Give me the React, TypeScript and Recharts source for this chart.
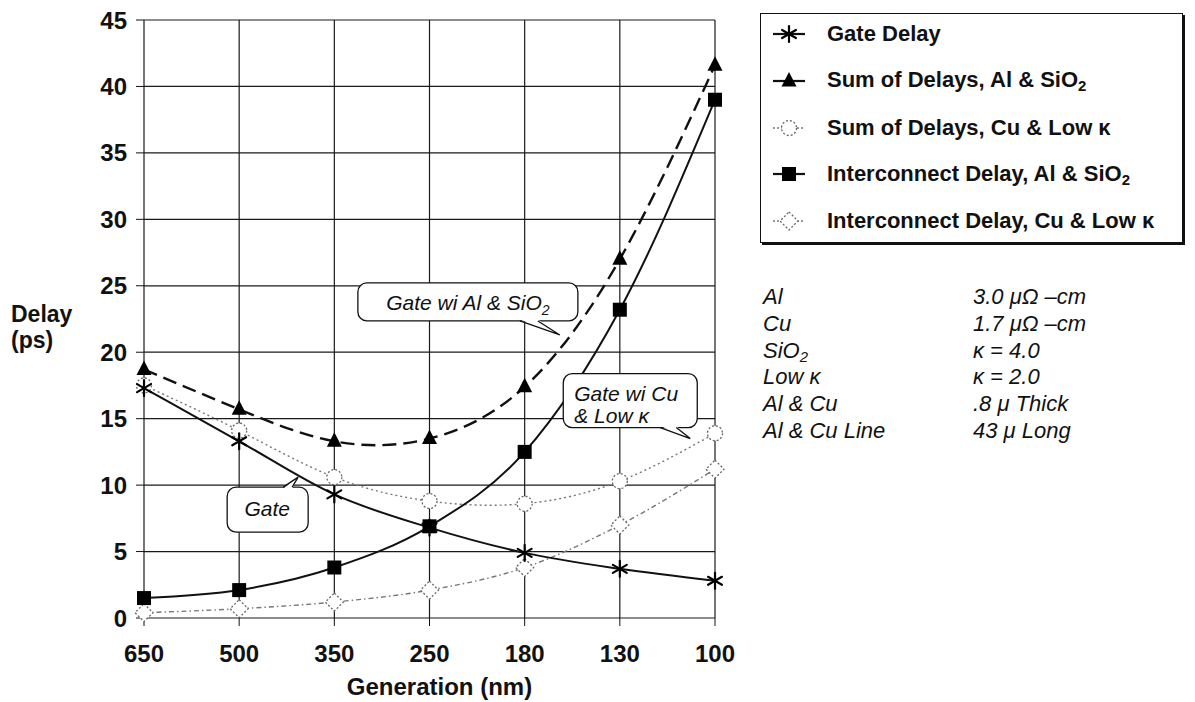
import React from 'react'
import { LineChart, Line, XAxis, YAxis, CartesianGrid, ReferenceDot } from 'recharts'

// ─── values ──────────────────────────────────────────────────────────────────

const GENERATIONS = ['650', '500', '350', '250', '180', '130', '100']
const GATE_DELAY = [17.3, 13.3, 9.3, 6.8, 4.9, 3.7, 2.8]
const SUM_AL_SIO2 = [18.7, 15.7, 13.3, 13.5, 17.4, 27.0, 41.6]
const SUM_CU_LOWK = [17.5, 14.1, 10.6, 8.8, 8.6, 10.3, 13.9]
const INTERCONNECT_AL_SIO2 = [1.5, 2.1, 3.8, 6.9, 12.5, 23.2, 39.0]
const INTERCONNECT_CU_LOWK = [0.4, 0.7, 1.2, 2.1, 3.8, 7.0, 11.2]
const Y_TICKS = [0, 5, 10, 15, 20, 25, 30, 35, 40, 45]

const MATERIAL_NAMES = ['Al', 'Cu', 'SiO2', 'Low κ', 'Al & Cu', 'Al & Cu Line']
const MATERIAL_VALUES = ['3.0 μΩ –cm', '1.7 μΩ –cm', 'κ = 4.0', 'κ = 2.0', '.8 μ Thick', '43 μ Long']

const FONT = '"Liberation Sans", Arial, Helvetica, sans-serif'

type MarkerKind = 'star' | 'triangle' | 'circle' | 'square' | 'diamond'

interface SeriesDef {
  key: string
  name: string
  values: number[]
  marker: MarkerKind
  stroke: string
  width: number
  dash?: string
  curve: 'monotone' | 'natural'
}

// drawn in this order (grey dotted ones underneath)
const SERIES: SeriesDef[] = [
  { key: 'sumCu', name: 'Sum of Delays, Cu & Low κ', values: SUM_CU_LOWK, marker: 'circle', stroke: '#777', width: 1.4, dash: '2 3', curve: 'natural' },
  { key: 'intCu', name: 'Interconnect Delay, Cu & Low κ', values: INTERCONNECT_CU_LOWK, marker: 'diamond', stroke: '#777', width: 1.4, dash: '5 3 1.5 3', curve: 'monotone' },
  { key: 'gate', name: 'Gate Delay', values: GATE_DELAY, marker: 'star', stroke: '#111', width: 2, curve: 'monotone' },
  { key: 'sumAl', name: 'Sum of Delays, Al & SiO2', values: SUM_AL_SIO2, marker: 'triangle', stroke: '#111', width: 2.4, dash: '14 7', curve: 'natural' },
  { key: 'intAl', name: 'Interconnect Delay, Al & SiO2', values: INTERCONNECT_AL_SIO2, marker: 'square', stroke: '#111', width: 2, curve: 'monotone' },
]

const LEGEND_ORDER = ['gate', 'sumAl', 'sumCu', 'intAl', 'intCu']

const data = GENERATIONS.map((g, i) => {
  const row: Record<string, number | string> = { i, gen: g }
  SERIES.forEach((s) => { row[s.key] = s.values[i] })
  return row
})

// "SiO2" -> SiO with subscript 2 (html)
function withSub(text: string) {
  const parts = text.split('SiO2')
  return parts.map((p, k) => (
    <React.Fragment key={k}>
      {p}
      {k < parts.length - 1 && <>SiO<sub style={{ fontSize: '0.68em', verticalAlign: '-0.3em' }}>2</sub></>}
    </React.Fragment>
  ))
}

function Marker({ kind, cx, cy }: { kind: MarkerKind; cx: number; cy: number }) {
  if (kind === 'star') {
    const r = 8
    const dx = r * Math.cos(Math.PI / 6)
    const dy = r * Math.sin(Math.PI / 6)
    return (
      <g stroke="#000" strokeWidth={2.2} strokeLinecap="round">
        <line x1={cx} y1={cy - r} x2={cx} y2={cy + r} />
        <line x1={cx - dx} y1={cy - dy} x2={cx + dx} y2={cy + dy} />
        <line x1={cx - dx} y1={cy + dy} x2={cx + dx} y2={cy - dy} />
      </g>
    )
  }
  if (kind === 'triangle') {
    return <polygon points={`${cx},${cy - 9} ${cx - 7.5},${cy + 5.5} ${cx + 7.5},${cy + 5.5}`} fill="#000" />
  }
  if (kind === 'square') {
    return <rect x={cx - 7} y={cy - 7} width={14} height={14} fill="#000" />
  }
  if (kind === 'circle') {
    return <circle cx={cx} cy={cy} r={7.5} fill="#fff" stroke="#666" strokeWidth={1.3} strokeDasharray="2 2" />
  }
  return (
    <polygon
      points={`${cx},${cy - 9} ${cx + 9},${cy} ${cx},${cy + 9} ${cx - 9},${cy}`}
      fill="#fff" stroke="#666" strokeWidth={1.3} strokeDasharray="2 2"
    />
  )
}

// ─── callouts: tip sits at a data position, box drawn relative to it ─────────

interface CalloutProps {
  cx: number
  cy: number
  box: [number, number, number, number] // dx, dy, w, h
  base: [number, number, number] // x1, x2, y  (tail root on the box edge)
  lines: { text: React.ReactNode; dx: number; dy: number; anchor: 'start' | 'middle' }[]
}

function Callout({ cx, cy, box, base, lines }: CalloutProps) {
  const [bx, by, bw, bh] = box
  const [t1, t2, ty] = base
  const inward = ty > by ? -1.5 : 1.5
  return (
    <g fontFamily={FONT}>
      <rect x={cx + bx} y={cy + by} width={bw} height={bh} rx={9} fill="#fff" stroke="#111" strokeWidth={1.3} />
      <polygon
        points={`${cx + t1},${cy + ty + inward} ${cx},${cy} ${cx + t2},${cy + ty + inward}`}
        fill="#fff" stroke="none"
      />
      <polyline points={`${cx + t1},${cy + ty} ${cx},${cy} ${cx + t2},${cy + ty}`} fill="none" stroke="#111" strokeWidth={1.3} />
      {lines.map((l, k) => (
        <text key={k} x={cx + l.dx} y={cy + l.dy} textAnchor={l.anchor} fontSize={21} fontStyle="italic" fill="#111">
          {l.text}
        </text>
      ))}
    </g>
  )
}

const CALLOUTS = [
  {
    x: 4.37, y: 21.3,
    box: [-202, -52, 220, 38] as [number, number, number, number],
    base: [-40, -22, -14] as [number, number, number],
    lines: [{
      text: <>Gate wi Al &amp; SiO<tspan fontSize={14} dy={5}>2</tspan></>,
      dx: -92, dy: -25, anchor: 'middle' as const,
    }],
  },
  {
    x: 5.74, y: 13.5,
    box: [-127, -65, 134, 54] as [number, number, number, number],
    base: [-30, -14, -11] as [number, number, number],
    lines: [
      { text: 'Gate wi Cu', dx: -116, dy: -38, anchor: 'start' as const },
      { text: '& Low κ', dx: -116, dy: -16, anchor: 'start' as const },
    ],
  },
  {
    x: 1.62, y: 10.6,
    box: [-71, 10, 81, 45] as [number, number, number, number],
    base: [-15, -6, 10] as [number, number, number],
    lines: [{ text: 'Gate', dx: -31, dy: 39, anchor: 'middle' as const }],
  },
]

function LegendBox() {
  return (
    <div
      style={{
        position: 'absolute', left: 760, top: 13, width: 423, height: 230,
        border: '1.5px solid #111', boxShadow: '2px 2px 0 #111', background: '#fff',
        boxSizing: 'border-box',
      }}
    >
      {LEGEND_ORDER.map((key, k) => {
        const s = SERIES.find((d) => d.key === key)!
        const grey = s.stroke !== '#111'
        return (
          <div key={key} style={{ position: 'absolute', left: 8, top: 5 + k * 46.8, height: 30, display: 'flex', alignItems: 'center' }}>
            <svg width={40} height={30}>
              <line x1={4} y1={15} x2={36} y2={15} stroke={s.stroke} strokeWidth={grey ? 1.4 : 2.2} strokeDasharray={grey ? '2 2' : undefined} />
              <Marker kind={s.marker} cx={20} cy={15} />
            </svg>
            <span style={{ marginLeft: 18, fontSize: 22, fontWeight: 'bold', color: '#111', whiteSpace: 'nowrap' }}>
              {withSub(s.name)}
            </span>
          </div>
        )
      })}
    </div>
  )
}

function MaterialsTable() {
  return (
    <div style={{ position: 'absolute', left: 763, top: 285, fontSize: 22, fontStyle: 'italic', color: '#111' }}>
      {MATERIAL_NAMES.map((m, k) => (
        <div key={m} style={{ position: 'absolute', top: k * 26.8, left: 0, width: 420, height: 24, lineHeight: '24px', whiteSpace: 'nowrap' }}>
          <span style={{ position: 'absolute', left: 0 }}>{withSub(m)}</span>
          <span style={{ position: 'absolute', left: 210 }}>{MATERIAL_VALUES[k]}</span>
        </div>
      ))}
    </div>
  )
}

export default function App() {
  return (
    <div style={{ position: 'absolute', left: 0, top: 0, width: 1195, height: 702, background: '#fff', overflow: 'hidden', fontFamily: FONT }}>
      <LineChart width={1195} height={702} data={data} margin={{ top: 20, right: 480, bottom: 0, left: 0 }}>
        <CartesianGrid stroke="#1a1a1a" strokeWidth={1.2} />
        <XAxis
          type="number"
          dataKey="i"
          domain={[0, 6]}
          ticks={[0, 1, 2, 3, 4, 5, 6]}
          tickFormatter={(v: number) => GENERATIONS[v]}
          height={84}
          axisLine={false}
          tickSize={8}
          tickLine={{ stroke: '#111' }}
          tickMargin={19}
          tick={{ fontSize: 24, fontWeight: 'bold', fill: '#111', fontFamily: FONT }}
          label={{
            value: 'Generation (nm)', position: 'insideBottom', offset: 7, dx: 10,
            style: { fontSize: 24, fontWeight: 'bold', fill: '#111', fontFamily: FONT },
          }}
        />
        <YAxis
          type="number"
          domain={[0, 45]}
          ticks={Y_TICKS}
          interval={0}
          width={144}
          axisLine={false}
          tickSize={8}
          tickLine={{ stroke: '#111' }}
          tickMargin={9}
          tick={{ fontSize: 24, fontWeight: 'bold', fill: '#111', fontFamily: FONT }}
        />
        {SERIES.map((s) => (
          <Line
            key={s.key}
            type={s.curve}
            dataKey={s.key}
            name={s.name}
            stroke={s.stroke}
            strokeWidth={s.width}
            strokeDasharray={s.dash}
            dot={(p: any) => <Marker key={`${s.key}-${p.index}`} kind={s.marker} cx={p.cx} cy={p.cy} />}
            activeDot={false}
            isAnimationActive={false}
          />
        ))}
        {CALLOUTS.map((c, k) => (
          <ReferenceDot
            key={k}
            x={c.x}
            y={c.y}
            r={1}
            ifOverflow="visible"
            shape={(p: any) => <Callout cx={p.cx} cy={p.cy} box={c.box} base={c.base} lines={c.lines} />}
          />
        ))}
      </LineChart>

      <div style={{ position: 'absolute', left: 11, top: 301, fontSize: 23, fontWeight: 'bold', lineHeight: '26px', color: '#111' }}>
        <div>Delay</div>
        <div>(ps)</div>
      </div>
      <LegendBox />
      <MaterialsTable />
    </div>
  )
}
